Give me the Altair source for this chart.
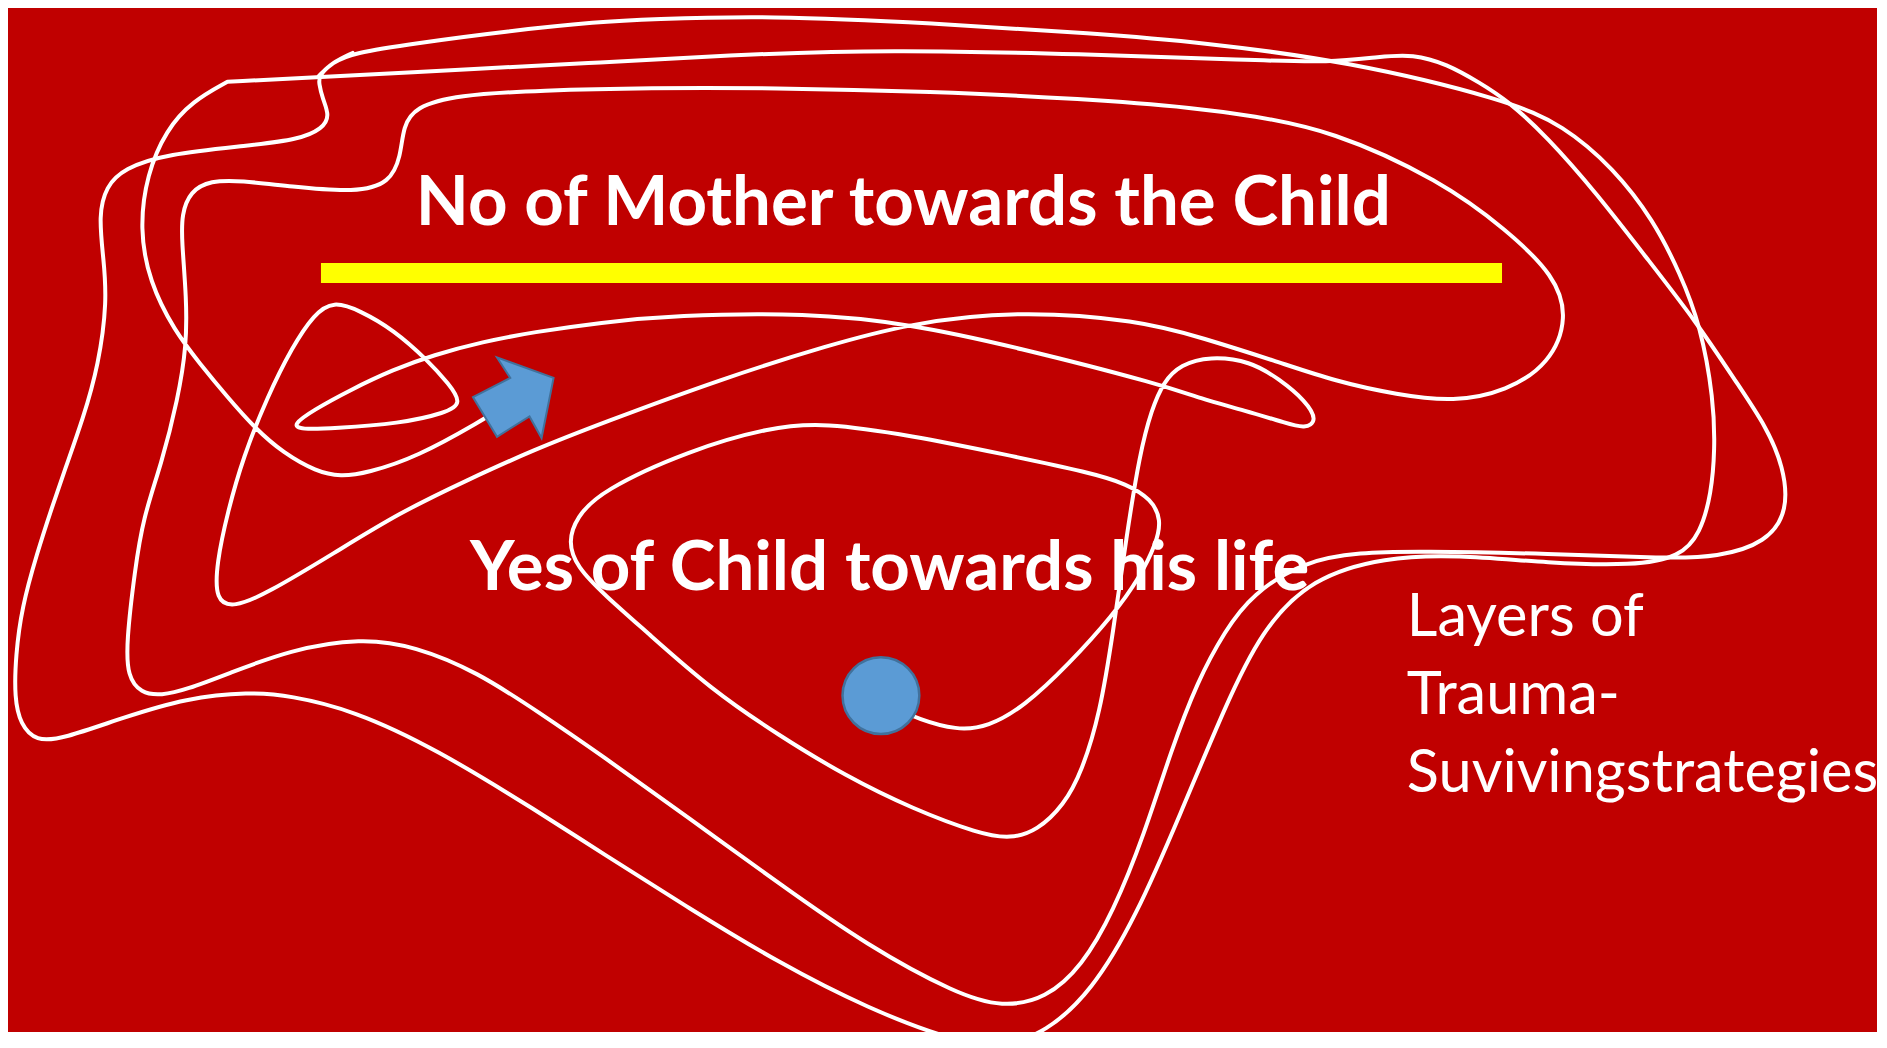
import altair as alt
import pandas as pd

# Reference read in a 1568x871 overview; screen is 1887x1048 (ratio K)
K = 1887 / 1568
W, H = 1869, 1024
X_DOMAIN = [8 / K, (8 + W) / K]
Y_DOMAIN = [8 / K, (8 + H) / K]

BG = "#C00000"

# Main free-hand stroke: from the blue dot to the blue arrow
main_path = [
    (748, 590), (762, 597), (795, 607), (821, 604), (851, 587), (888, 552), (925, 511),
    (947, 480), (961, 451), (965, 432), (957, 415), (936, 402), (907, 393), (832, 377),
    (758, 362), (684, 351), (640, 355), (573, 374), (499, 408), (479, 430), (472, 450),
    (479, 471), (503, 495), (536, 524), (591, 573), (647, 611), (703, 645), (758, 672),
    (814, 693), (840, 697), (862, 690), (884, 669), (899, 641), (914, 593), (925, 525),
    (936, 446), (947, 377), (957, 340), (967, 317), (981, 303), (1005, 296), (1039, 300),
    (1063, 315), (1085, 333), (1095, 350), (1084, 356), (1070, 352), (1034, 341),
    (997, 331), (967, 320), (843, 288), (755, 269), (671, 260), (560, 262), (499, 268),
    (443, 276), (401, 284), (360, 295), (327, 307), (291, 324), (260, 341), (243, 353),
    (250, 357), (277, 356), (332, 352), (371, 343), (384, 335), (373, 319),
    (355, 299), (327, 274), (299, 258), (277, 250), (261, 261), (243, 288),
    (222, 330), (202, 380), (189, 426), (180, 468), (179, 499), (194, 505),
    (222, 493), (277, 460), (332, 426), (388, 399), (443, 374), (499, 352), (602, 314),
    (688, 287), (755, 269), (843, 258), (947, 266), (1000, 281), (1060, 300), (1110, 317),
    (1161, 328), (1208, 334), (1252, 325), (1288, 302), (1303, 264), (1292, 229),
    (1252, 191), (1197, 150), (1106, 108), (1039, 96), (997, 90), (900, 82), (774, 76),
    (640, 73), (540, 73), (450, 75), (379, 79), (345, 89), (335, 105), (333, 130),
    (324, 152), (296, 160), (241, 155), (200, 150), (175, 150), (158, 159), (151, 178),
    (151, 200), (155, 248), (155, 287), (148, 331), (134, 386), (119, 430), (112, 474),
    (105, 534), (106, 562), (117, 576), (134, 578), (155, 573), (189, 560), (241, 540),
    (300, 530), (345, 537), (396, 558), (448, 592), (499, 627), (573, 680), (647, 734),
    (721, 786), (795, 826), (833, 837), (869, 830), (899, 803), (925, 758), (951, 693),
    (973, 624), (995, 566), (1018, 524), (1040, 494), (1084, 466), (1130, 459),
    (1178, 458), (1288, 460), (1385, 464), (1427, 463), (1468, 451), (1486, 424),
    (1482, 388), (1468, 355), (1443, 318), (1410, 268), (1368, 214), (1327, 161),
    (1285, 113), (1252, 83), (1230, 69), (1202, 53), (1174, 45), (1147, 47), (1106, 52),
    (1039, 50), (900, 45), (740, 41), (600, 46), (498, 52), (400, 57), (265, 64),
    (189, 68), (189, 68), (189, 68), (160, 84), (138, 108), (122, 145), (116, 190),
    (124, 234), (145, 275), (166, 302), (189, 330), (213, 357), (235, 376), (263, 392),
    (283, 396), (305, 393), (346, 380), (401, 349), (415, 340),
]

# Outer closed stroke
loop_path = [
    (265, 63), (276, 52), (293, 44), (345, 36), (420, 26), (498, 18), (540, 16),
    (637, 13), (774, 19), (912, 28), (997, 35), (1121, 51), (1252, 83), (1299, 104),
    (1341, 140), (1374, 183), (1396, 227), (1413, 270), (1424, 332), (1425, 374),
    (1422, 410), (1413, 443), (1396, 463), (1357, 470), (1288, 468), (1210, 461),
    (1151, 463), (1090, 480), (1048, 524), (1018, 587), (981, 676), (944, 762),
    (907, 824), (869, 858), (833, 870), (795, 866), (721, 838), (647, 800), (573, 755),
    (499, 708), (448, 675), (362, 622), (293, 590), (241, 578), (207, 575), (155, 580),
    (103, 596), (52, 614), (30, 616), (17, 602), (12, 580), (13, 545), (18, 505),
    (31, 459), (42, 425), (54, 390), (69, 348), (82, 303), (89, 250), (86, 215),
    (82, 179), (88, 155), (103, 140), (138, 128), (207, 121), (248, 116), (268, 107),
    (274, 96), (268, 82), (265, 69), (265, 63), (276, 52), (293, 44),
]

# Blue block arrow outline
arrow_poly = [(393, 330), (424, 314), (413, 297), (460, 314), (450, 364), (440, 346), (413, 363)]

# Blue dot
dot_x = [732]
dot_y = [578]

# Yellow bar
bar_x, bar_x2 = [266.7], [1248.1]
bar_y, bar_y2 = [218.5], [235.2]

# Texts
head_texts = ["No of Mother towards the Child", "Yes of Child towards his life"]
head_x = [345.5, 390.5]
head_y = [187.0, 490.3]
side_text = ["Layers of\nTrauma-\nSuvivingstrategies"]
side_x = [1169.0]
side_y = [528.5]

rows = []
for name, pts in (("main", main_path), ("loop", loop_path)):
    for i, (x, y) in enumerate(pts):
        rows.append({"path": name, "i": i, "x": x, "y": y})
lines_df = pd.DataFrame(rows)
arrow_df = pd.DataFrame([{"i": i, "x": x, "y": y} for i, (x, y) in enumerate(arrow_poly)])

xs = alt.Scale(domain=X_DOMAIN, nice=False, zero=False)
ys = alt.Scale(domain=Y_DOMAIN, nice=False, zero=False, reverse=True)
X = alt.X("x:Q", scale=xs, axis=None)
Y = alt.Y("y:Q", scale=ys, axis=None)

bar = alt.Chart(pd.DataFrame({"x": bar_x, "x2": bar_x2, "y": bar_y, "y2": bar_y2})).mark_rect(
    color="#FFFF00"
).encode(x=X, x2="x2:Q", y=Y, y2="y2:Q")

lines = alt.Chart(lines_df).mark_line(
    color="white", strokeWidth=4, interpolate="basis", strokeCap="round", strokeJoin="round"
).encode(x=X, y=Y, detail="path:N", order="i:Q")

heads = alt.Chart(pd.DataFrame({"x": head_x, "y": head_y, "t": head_texts})).mark_text(
    align="left", baseline="alphabetic", font="Lato", fontWeight="bold", fontSize=69, color="white"
).encode(x=X, y=Y, text="t:N")

side = alt.Chart(pd.DataFrame({"x": side_x, "y": side_y, "t": side_text})).mark_text(
    align="left", baseline="alphabetic", font="Lato", fontWeight="normal", fontSize=59.5,
    color="white", lineBreak="\n", lineHeight=78
).encode(x=X, y=Y, text="t:N")

arrow = alt.Chart(arrow_df).mark_line(
    fill="#5B9BD5", stroke="#41719C", strokeWidth=2, interpolate="linear-closed"
).encode(x=X, y=Y, order="i:Q")

dot = alt.Chart(pd.DataFrame({"x": dot_x, "y": dot_y})).mark_circle(
    size=5900, color="#5B9BD5", opacity=1, stroke="#41719C", strokeWidth=2.5
).encode(x=X, y=Y)

chart = alt.layer(bar, lines, heads, side, arrow, dot).properties(
    width=W, height=H, autosize=alt.AutoSizeParams(type="none"), padding=0, background=BG
).configure_view(stroke=None)

chart.save("out.html", embed_options={"renderer": "svg", "actions": False})
